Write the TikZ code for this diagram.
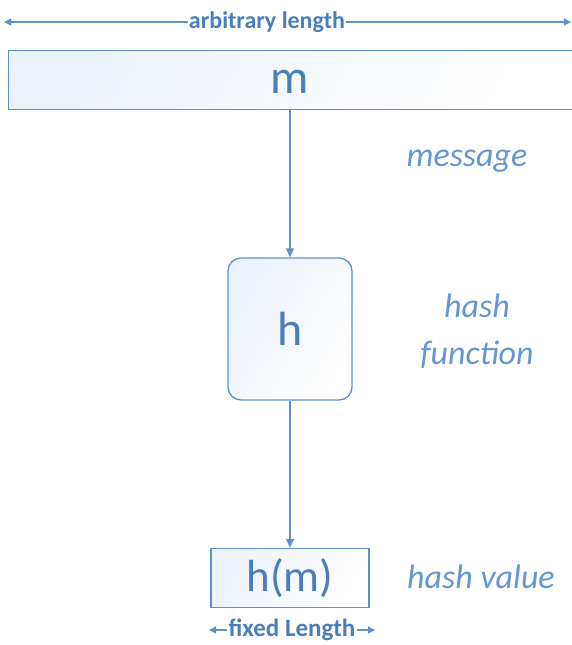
\documentclass[tikz,border=0pt]{standalone}
\usepackage{fontspec}
\setmainfont{Carlito}
\usetikzlibrary{arrows.meta}
\definecolor{bline}{RGB}{91,146,206}
\definecolor{btext}{RGB}{74,126,187}
\definecolor{blab}{RGB}{100,150,210}
\definecolor{bfill}{RGB}{236,242,250}
\tikzset{
  box/.style={draw=bline, line width=1.3pt, left color=bfill, right color=white, shading angle=60, inner sep=0pt},
  conn/.style={draw=bline, line width=1.2pt, -{Triangle[length=9pt,width=8pt]}},
  dim/.style={draw=bline, line width=1.3pt, -{Triangle[length=7pt,width=7pt]}},
  lab/.style={text=blab, font=\fontsize{34}{36}\selectfont\itshape},
  dimtxt/.style={text=btext, font=\fontsize{24}{26}\selectfont\bfseries, fill=white, inner sep=1pt}
}
\begin{document}
\begin{tikzpicture}[x=1pt,y=-1pt]
\useasboundingbox (0,0) rectangle (571,645);
% top dimension
\node[dimtxt] (arb) at (267,22) {arbitrary length};
\coordinate (al) at (4,22);
\coordinate (ar) at (571,22);
\draw[dim] (arb.west) -- (al);
\draw[dim] (arb.east) -- (ar);
% message box
\node[box, minimum width=571pt, minimum height=59pt, anchor=north west] (m) at (8,50) {};
\node[text=btext, font=\fontsize{48}{50}\selectfont] (mt) at (290,82) {m};
\coordinate (mb) at (290,109);
% hash box
\node[box, rounded corners=13pt, minimum width=124pt, minimum height=142pt, text=btext, font=\fontsize{48}{50}\selectfont] (h) at (290,329) {h};
% hash value box
\node[box, minimum width=158pt, minimum height=59pt, text=btext, font=\fontsize{45}{47}\selectfont] (hm) at (290,578) {h(m)};
\draw[conn] (mb) -- (h.north);
\draw[conn] (h.south) -- (hm.north);
% fixed length
\node[dimtxt, font=\fontsize{25}{27}\selectfont\bfseries] (fl) at (292,630) {fixed Length};
\coordinate (fll) at (209,630);
\coordinate (flr) at (375,630);
\draw[dim] (fl.west) -- (fll);
\draw[dim] (fl.east) -- (flr);
% labels
\node[lab] (l1) at (467,161) {message};
\node[lab] (l2) at (477,306) {hash};
\node[lab] (l3) at (477,355) {function};
\node[lab] (l4) at (481,577) {hash value};
\end{tikzpicture}
\end{document}
